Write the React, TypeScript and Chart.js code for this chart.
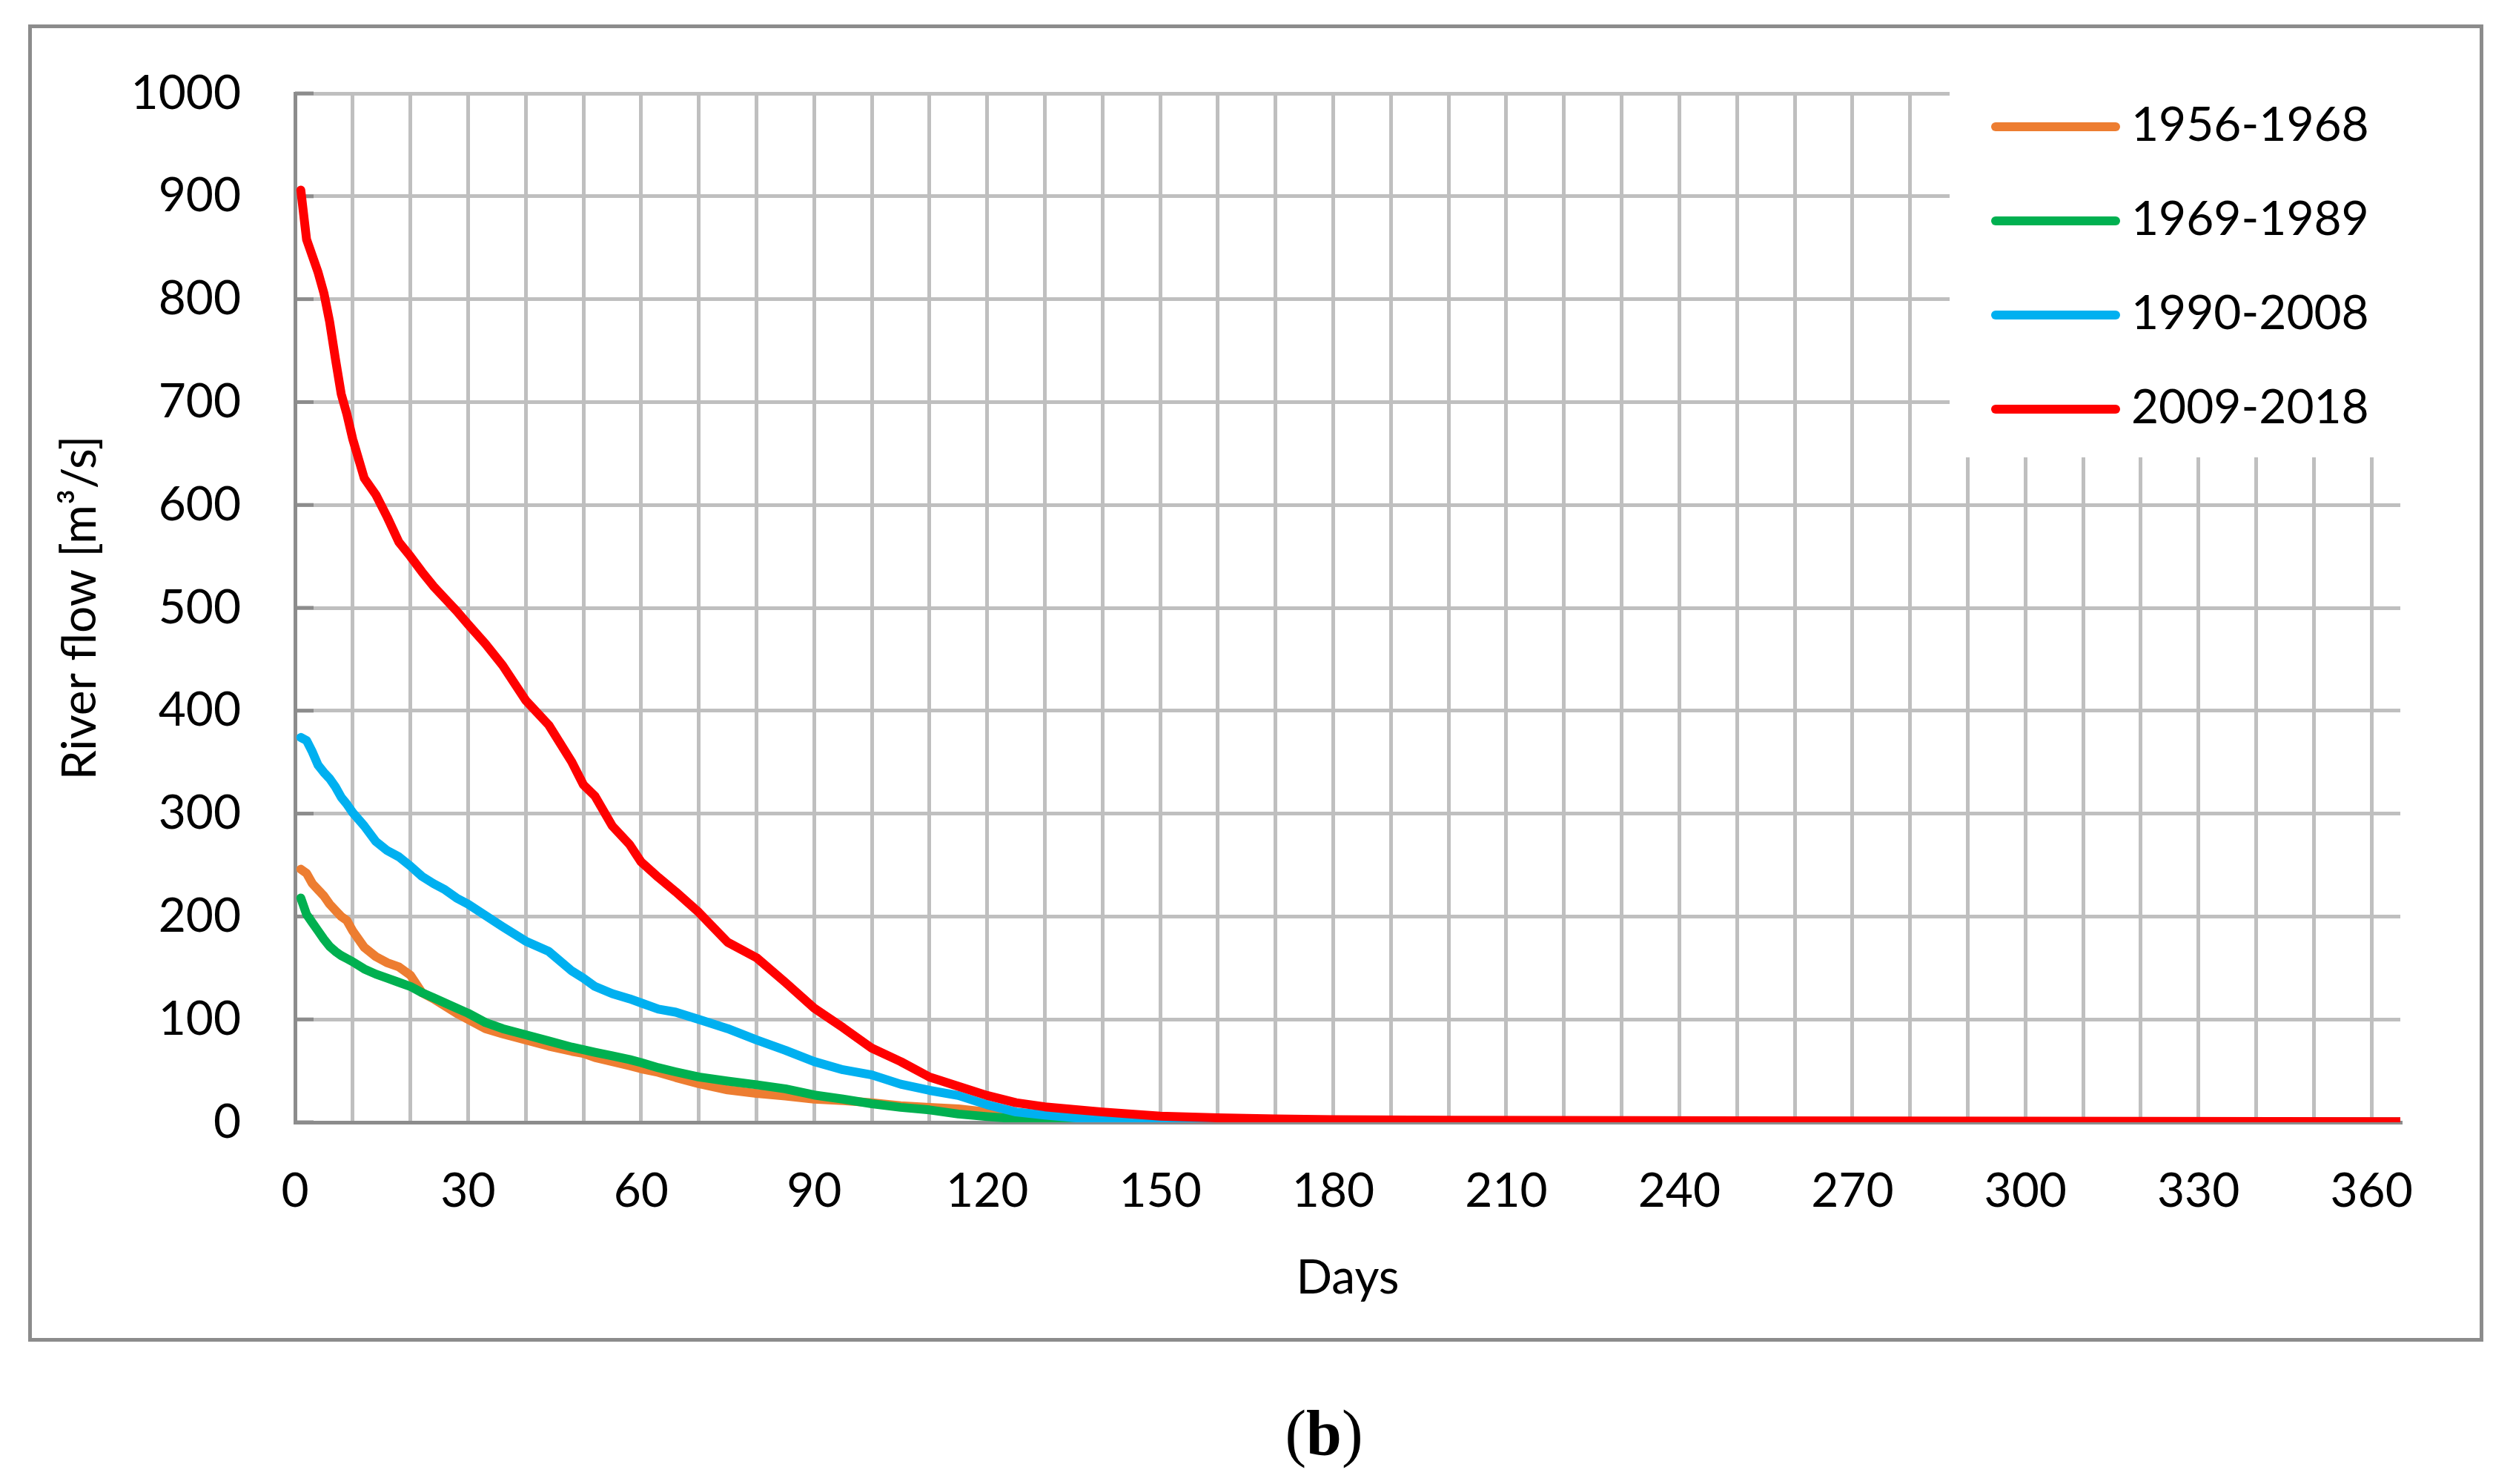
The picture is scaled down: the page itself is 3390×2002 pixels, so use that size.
import { useEffect, useRef } from "react";
import { Chart, registerables } from "chart.js";
Chart.register(...registerables);

// flow duration curves
const days = [
  1, 2, 3, 4, 5, 6, 7, 8, 9, 10, 12, 14, 16, 18, 20, 22, 24, 26, 28, 30,
  33, 36, 40, 44, 48, 50, 52, 55, 58, 60, 63, 66, 70, 75, 80, 85, 90, 95, 100,
  105, 110, 115, 120, 125, 130, 135, 140, 150, 160, 170, 180, 200, 250, 300, 365,
];
const flow1956 = [
  246, 242, 232, 226, 220, 212, 206, 200, 196, 186, 170, 161, 155, 151, 143, 126, 120, 113, 106, 100,
  91, 86, 80, 74, 69, 67, 63, 59, 55, 52, 48.5, 43.5, 37.5, 31.5, 28, 25.5, 22.5, 21, 19,
  16, 14.5, 13, 10, 6.5, 4.5, 3, 1.5, 0.5, 0.3, 0.2, 0.2, 0.1, 0.1, 0.1, 0.1,
];
const flow1969 = [
  218, 202, 194, 186, 178, 171, 166, 162, 159, 156, 149, 144, 140, 136, 132, 126, 121, 116, 111, 106,
  97, 91, 85, 79, 73, 70.5, 68, 64.5, 61, 58, 53, 49, 44, 40, 36.5, 32.5, 26.5, 22.5, 18,
  14.5, 12, 8, 5.5, 3.5, 2.3, 1.5, 0.8, 0.3, 0.2, 0.2, 0.1, 0.1, 0.1, 0.1, 0.1,
];
const flow1990 = [
  374, 371, 360, 347, 340, 334, 326, 316, 309, 301, 288, 273, 264, 258, 249, 239, 232, 226, 218, 212,
  201, 190, 176, 166, 147, 140, 132, 125, 120, 116, 110, 107, 100, 91, 80, 70, 59, 51, 46,
  37, 31, 26, 17, 10, 7, 4.5, 2.5, 0.8, 0.4, 0.3, 0.2, 0.2, 0.2, 0.2, 0.2,
];
const flow2009 = [
  906, 858, 842, 826, 806, 778, 742, 708, 688, 664, 626, 610, 588, 564, 550, 535, 521, 509, 497, 484,
  465, 444, 410, 386, 350, 328, 317, 288, 270, 253, 238, 224, 204, 175, 160, 136, 111, 92, 72,
  59, 44, 35, 26, 19, 15, 12.5, 10, 6, 4.3, 3.2, 2.5, 2, 1.5, 1, 0.6,
];
const periods = ["1956-1968", "1969-1989", "1990-2008", "2009-2018"];
const xLabels = [0, 30, 60, 90, 120, 150, 180, 210, 240, 270, 300, 330, 360];
const yLabels = [0, 100, 200, 300, 400, 500, 600, 700, 800, 900, 1000];

const COLOURS = ["#ED7D31", "#00B050", "#00B0F0", "#FF0000"];
const AXIS = "#8c8c8c";
const FONT = "Lato";

// legend sits inside the plot, top right, on a white box that hides the grid
const insideLegend = {
  id: "insideLegend",
  beforeDatasetsDraw(chart: any) {
    const { ctx, chartArea: a, scales } = chart;
    ctx.save();
    // short inside tick marks on the value axis
    ctx.strokeStyle = AXIS;
    ctx.lineWidth = 5;
    for (const v of yLabels) {
      const py = scales.y.getPixelForValue(v);
      ctx.beginPath();
      ctx.moveTo(a.left, py);
      ctx.lineTo(a.left + 25, py);
      ctx.stroke();
    }
    ctx.fillStyle = "#fff";
    ctx.fillRect(a.right - 608, a.top - 4, 614, 495);
    ctx.font = `64px ${FONT}`;
    ctx.textBaseline = "middle";
    chart.data.datasets.forEach((ds: any, i: number) => {
      const cy = a.top + 45 + i * 127;
      ctx.strokeStyle = ds.borderColor;
      ctx.lineWidth = 12;
      ctx.lineCap = "round";
      ctx.beginPath();
      ctx.moveTo(a.right - 546, cy);
      ctx.lineTo(a.right - 384, cy);
      ctx.stroke();
      ctx.fillStyle = "#000";
      ctx.fillText(ds.label, a.right - 363, cy - 2);
    });
    ctx.restore();
  },
};

export default function App() {
  const canvasRef = useRef<HTMLCanvasElement | null>(null);

  useEffect(() => {
    if (!canvasRef.current) return;
    const series = [flow1956, flow1969, flow1990, flow2009];

    const chart = new Chart(canvasRef.current, {
      type: "line",
      data: {
        datasets: series.map((flow, i) => ({
          label: periods[i],
          data: days.map((d, j) => ({ x: d, y: flow[j] })),
          borderColor: COLOURS[i],
          backgroundColor: COLOURS[i],
          borderWidth: 12,
          borderCapStyle: "round" as const,
          borderJoinStyle: "round" as const,
          pointRadius: 0,
          tension: 0,
          order: 4 - i,
        })),
      },
      options: {
        animation: false,
        responsive: true,
        maintainAspectRatio: false,
        layout: { padding: { left: 0, top: 88, right: 107, bottom: 0 } },
        plugins: { legend: { display: false }, tooltip: { enabled: false } },
        scales: {
          x: {
            type: "linear",
            min: 0,
            max: 365,
            afterFit: (s: any) => { s.height = 291; },
            ticks: {
              stepSize: 10,
              includeBounds: false,
              autoSkip: false,
              maxRotation: 0,
              padding: 55,
              color: "#000",
              font: { family: FONT, size: 64 },
              callback: (v: any) => (xLabels.includes(v) ? String(v) : ""),
            },
            grid: { color: "#bfbfbf", lineWidth: 5, drawTicks: false },
            border: { color: AXIS, width: 5 },
            title: {
              display: true,
              text: "Days",
              color: "#000",
              font: { family: FONT, size: 64 },
              padding: { top: 0, bottom: 42 },
            },
          },
          y: {
            type: "linear",
            min: 0,
            max: 1000,
            afterFit: (s: any) => { s.width = 355; },
            ticks: {
              stepSize: 50,
              padding: 0,
              color: "#000",
              font: { family: FONT, size: 64 },
              callback: (v: any) => (yLabels.includes(v) ? String(v) : ""),
            },
            grid: {
              color: (c: any) => (c.tick && c.tick.value % 100 === 0 ? "#bfbfbf" : "#a6a6a6"),
              lineWidth: 5,
              drawTicks: true,
              tickLength: 73,
              tickColor: "rgba(0,0,0,0)",
            },
            border: { color: AXIS, width: 5 },
            title: {
              display: true,
              text: "River flow [m³/s]",
              color: "#000",
              font: { family: FONT, size: 64 },
              padding: { top: 27, bottom: 0 },
            },
          },
        },
      },
      plugins: [insideLegend],
    });

    return () => chart.destroy();
  }, []);

  return (
    <div style={{ position: "absolute", left: 0, top: 0, width: 3390, height: 2002, background: "#fff", overflow: "hidden" }}>
      <div
        style={{
          position: "absolute", left: 38, top: 33, width: 3312, height: 1777,
          border: `5px solid ${AXIS}`, boxSizing: "border-box",
        }}
      />
      <div style={{ position: "absolute", left: 43, top: 38, width: 3302, height: 1767 }}>
        <canvas ref={canvasRef} />
      </div>
      <div
        style={{
          position: "absolute", left: 1686, top: 1890, width: 200, textAlign: "center",
          fontFamily: "'Liberation Serif', serif", fontSize: 86, lineHeight: 1,
        }}
      >
        (<b>b</b>)
      </div>
    </div>
  );
}
